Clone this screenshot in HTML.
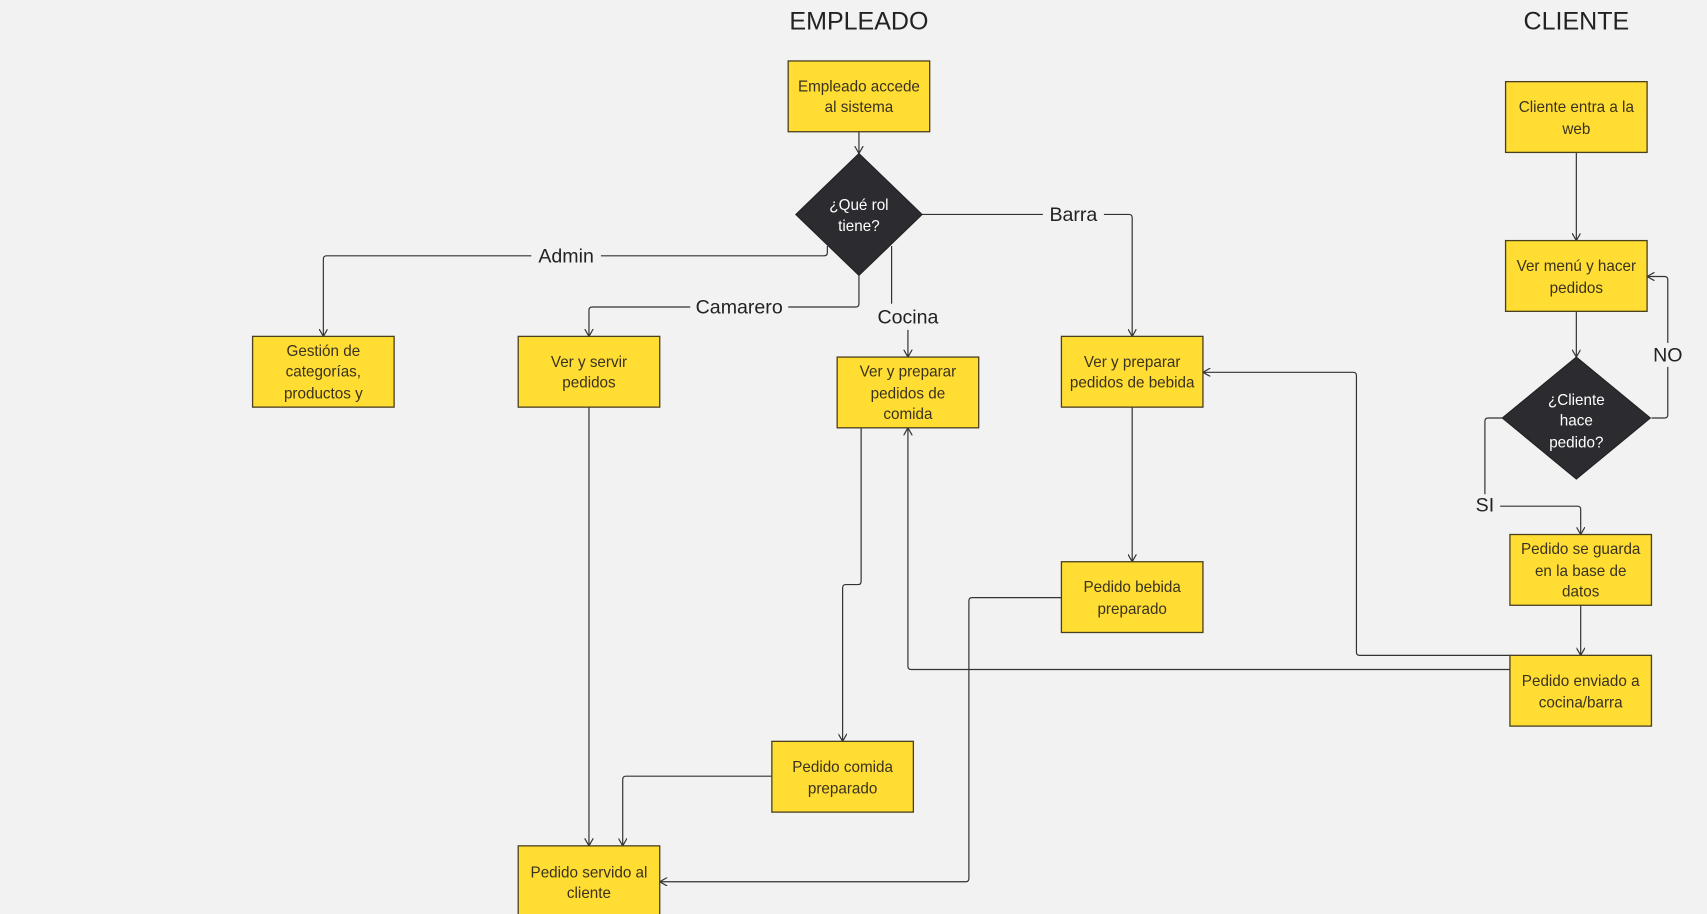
<!DOCTYPE html>
<html><head><meta charset="utf-8"><style>
html,body{margin:0;padding:0;background:#f2f2f2;}
svg{display:block;font-family:"Liberation Sans","DejaVu Sans",sans-serif;}
.b{fill:#ffdd33;stroke:#4a4020;stroke-width:1.2}
.t{font-size:14px;fill:#3a3220;text-anchor:middle}
.w{font-size:14px;fill:#fff;text-anchor:middle}
.l{fill:none;stroke:#333;stroke-width:1.1}
.lb{font-size:18px;fill:#222;text-anchor:middle}
</style></head><body>
<svg width="1707" height="914" viewBox="0 0 1568 839.6">
<defs><marker id="a" markerWidth="8" markerHeight="8" refX="7" refY="4" orient="auto" markerUnits="userSpaceOnUse"><path d="M0,0 L7,4 L0,8" fill="none" stroke="#333" stroke-width="1.1"/></marker></defs>
<rect width="1568" height="840" fill="#f2f2f2"/>
<text x="789" y="27" class="lb" style="font-size:23px">EMPLEADO</text>
<text x="1448" y="27" class="lb" style="font-size:23px">CLIENTE</text>

<g class="l">
<path d="M789,121 V141" marker-end="url(#a)"/>
<path d="M760,226 V232 Q760,235 757,235 H300 Q297,235 297,238 V309" marker-end="url(#a)"/>
<path d="M789,253 V279 Q789,282 786,282 H544 Q541,282 541,285 V309" marker-end="url(#a)"/>
<path d="M819,226 V282 H834 V328" marker-end="url(#a)"/>
<path d="M847,197 H1037 Q1040,197 1040,200 V309" marker-end="url(#a)"/>
<path d="M541,374 V777" marker-end="url(#a)"/>
<path d="M791,393 V534 Q791,537 788,537 H777 Q774,537 774,540 V681" marker-end="url(#a)"/>
<path d="M709,713 H575 Q572,713 572,716 V777" marker-end="url(#a)"/>
<path d="M1040,374 V516" marker-end="url(#a)"/>
<path d="M975,549 H893 Q890,549 890,552 V807 Q890,810 887,810 H606" marker-end="url(#a)"/>
<path d="M1448,140 V221" marker-end="url(#a)"/>
<path d="M1448,286 V328" marker-end="url(#a)"/>
<path d="M1517,384 H1529 Q1532,384 1532,381 V257 Q1532,254 1529,254 H1513" marker-end="url(#a)"/>
<path d="M1380,384 H1367 Q1364,384 1364,387 V465 H1449 Q1452,465 1452,468 V491" marker-end="url(#a)"/>
<path d="M1452,556 V602" marker-end="url(#a)"/>
<path d="M1387,602 H1249 Q1246,602 1246,599 V345 Q1246,342 1243,342 H1105" marker-end="url(#a)"/>
<path d="M1387,615 H837 Q834,615 834,612 V393" marker-end="url(#a)"/>
</g>
<g class="lb">
<rect x="488" y="224" width="64" height="22" fill="#f2f2f2"/><text x="520" y="241">Admin</text>
<rect x="634" y="271" width="90" height="22" fill="#f2f2f2"/><text x="679" y="288">Camarero</text>
<rect x="800" y="279" width="68" height="24" fill="#f2f2f2"/><text x="834" y="297">Cocina</text>
<rect x="958" y="186" width="56" height="22" fill="#f2f2f2"/><text x="986" y="203">Barra</text>
<rect x="1516" y="315" width="32" height="22" fill="#f2f2f2"/><text x="1532" y="332">NO</text>
<rect x="1350" y="454" width="28" height="22" fill="#f2f2f2"/><text x="1364" y="470">SI</text>
</g>

<rect class="b" x="724" y="56" width="130" height="65"/>
<text class="t" x="789" y="84">Empleado accede</text><text class="t" x="789" y="103">al sistema</text>
<polygon points="789,141 847,197 789,253 731,197" fill="#2b2b30" stroke="#222"/>
<text class="w" x="789" y="193">¿Qué rol</text><text class="w" x="789" y="212">tiene?</text>

<rect class="b" x="232" y="309" width="130" height="65"/>
<text class="t" x="297" y="327">Gestión de</text><text class="t" x="297" y="346">categorías,</text><text class="t" x="297" y="366">productos y</text>
<rect class="b" x="476" y="309" width="130" height="65"/>
<text class="t" x="541" y="337">Ver y servir</text><text class="t" x="541" y="356">pedidos</text>
<rect class="b" x="769" y="328" width="130" height="65"/>
<text class="t" x="834" y="346">Ver y preparar</text><text class="t" x="834" y="366">pedidos de</text><text class="t" x="834" y="385">comida</text>
<rect class="b" x="975" y="309" width="130" height="65"/>
<text class="t" x="1040" y="337">Ver y preparar</text><text class="t" x="1040" y="356">pedidos de bebida</text>
<rect class="b" x="975" y="516" width="130" height="65"/>
<text class="t" x="1040" y="544">Pedido bebida</text><text class="t" x="1040" y="564">preparado</text>
<rect class="b" x="709" y="681" width="130" height="65"/>
<text class="t" x="774" y="709">Pedido comida</text><text class="t" x="774" y="729">preparado</text>
<rect class="b" x="476" y="777" width="130" height="65"/>
<text class="t" x="541" y="806">Pedido servido al</text><text class="t" x="541" y="825">cliente</text>

<rect class="b" x="1383" y="75" width="130" height="65"/>
<text class="t" x="1448" y="103">Cliente entra a la</text><text class="t" x="1448" y="123">web</text>
<rect class="b" x="1383" y="221" width="130" height="65"/>
<text class="t" x="1448" y="249">Ver menú y hacer</text><text class="t" x="1448" y="269">pedidos</text>
<polygon points="1448,328 1516,384 1448,440 1380,384" fill="#2b2b30" stroke="#222"/>
<text class="w" x="1448" y="372">¿Cliente</text><text class="w" x="1448" y="391">hace</text><text class="w" x="1448" y="411">pedido?</text>
<rect class="b" x="1387" y="491" width="130" height="65"/>
<text class="t" x="1452" y="509">Pedido se guarda</text><text class="t" x="1452" y="529">en la base de</text><text class="t" x="1452" y="548">datos</text>
<rect class="b" x="1387" y="602" width="130" height="65"/>
<text class="t" x="1452" y="630">Pedido enviado a</text><text class="t" x="1452" y="650">cocina/barra</text>
</svg>
</body></html>
